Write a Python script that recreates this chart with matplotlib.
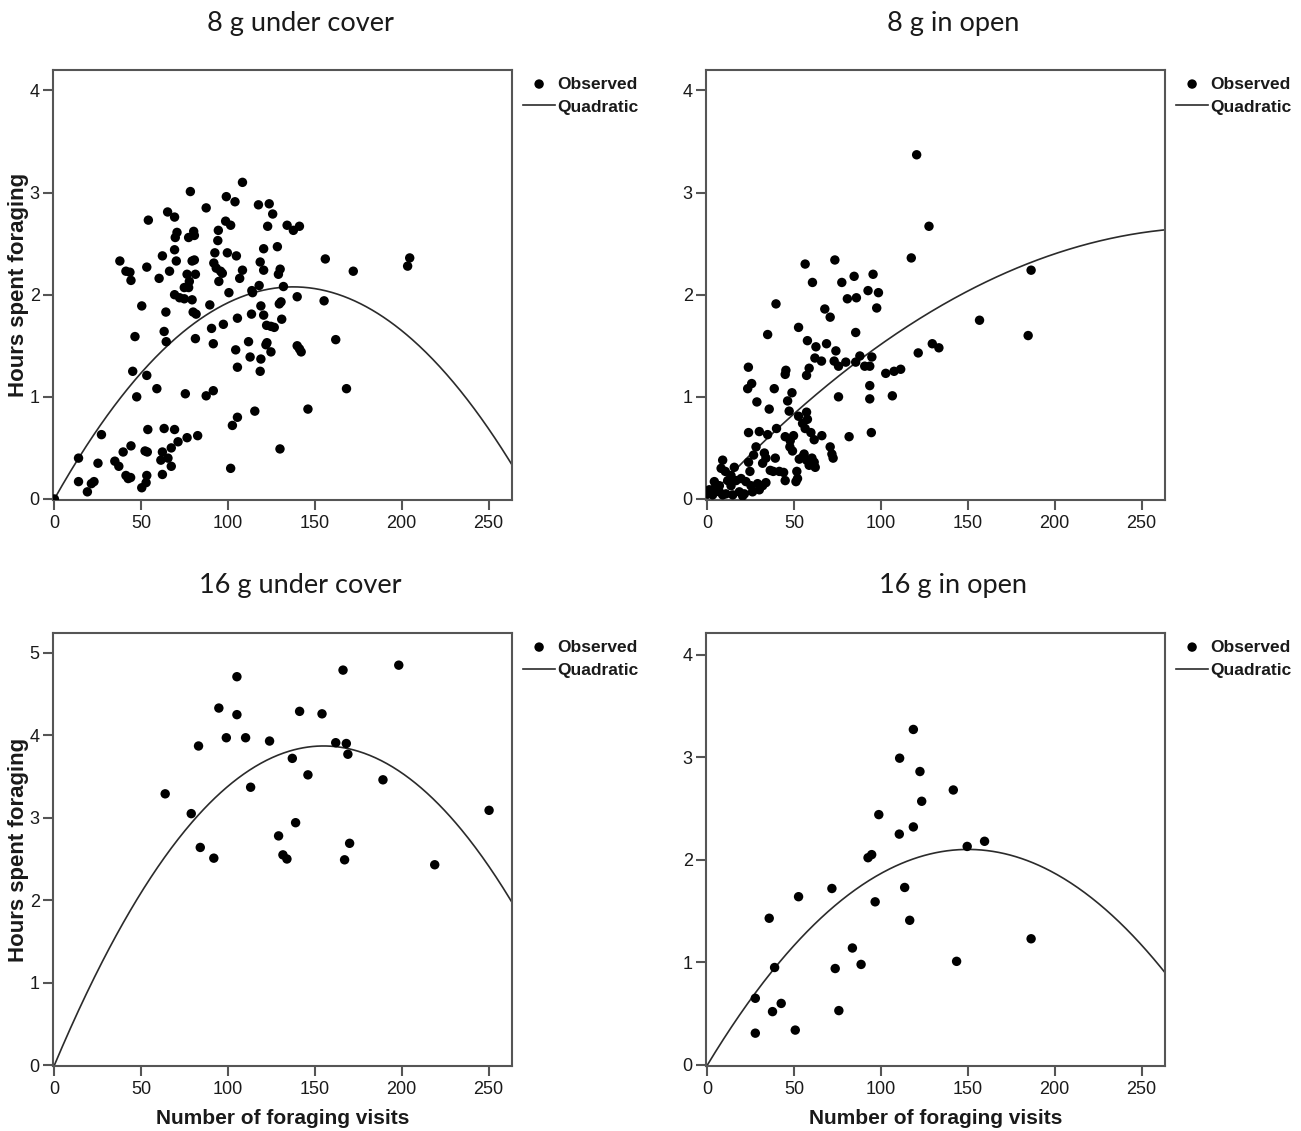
import numpy as np
import matplotlib
matplotlib.use("Agg")
import matplotlib.pyplot as plt

# ---------------------------------------------------------------------------
# data
# ---------------------------------------------------------------------------
titles = ["8 g under cover", "8 g in open", "16 g under cover", "16 g in open"]

# 8 g under cover
p1_x = [108.3, 78.3, 99, 104, 87.4, 117.5, 123.7, 125.7, 65.2, 69.2, 54.1, 98.6, 101.5, 122.8, 134, 137.6, 141.1,
        70.6, 69.6, 77.3, 80.2, 80.6, 94.4, 94.1, 120.5, 128.4, 69.2, 92.4, 99.6, 104.8, 62.2, 37.7, 41.2, 43.5,
        44.1, 53.2, 70.2, 79.3, 80.6, 66.3, 60.3, 76.4, 81.2, 77.7, 74.8, 77.3, 91.8, 93.2, 95.7, 96.7, 94.7,
        108.3, 106.7, 118.5, 120.5, 130, 129, 117.9, 113.7, 114.1, 131.9, 100.5, 69.2, 72.1, 74.8, 79.3, 50.3,
        89.5, 79.9, 81.6, 64.2, 118.9, 120.5, 129.5, 130.5, 113.5, 105.4, 97.3, 90.5, 130.9, 122.2, 124.7, 126.6,
        46.4, 63.2, 64.4, 81.2, 91.5, 111.8, 122.4, 121.8, 104.4, 112.7, 118.9, 124.7,
        156, 204.6, 203.4, 172.1, 139.8, 155.3, 139.8, 141.1, 142.1, 162, 105.4, 118.5, 168.2, 115.4, 105.4,
        102.5, 146, 129.9,
        45.1, 53.2, 59, 47.4, 75.4, 87.4, 91.5, 27.1, 53.8, 63.2, 69.2, 76.4, 82.5, 71.2, 67.3, 44.1, 39.6, 52.2,
        53.5, 62.2, 61.3, 65.4, 67.3, 62.2, 13.9, 25.1, 34.8, 37.1, 41.2, 42.5, 43.9, 53.2, 52.8, 50.3, 13.9,
        21.3, 22.8, 19, 101.5, 0]
p1_y = [3.10, 3.01, 2.96, 2.91, 2.85, 2.88, 2.89, 2.79, 2.81, 2.76, 2.73, 2.72, 2.68, 2.67, 2.68, 2.63, 2.67,
        2.61, 2.56, 2.56, 2.62, 2.58, 2.63, 2.53, 2.45, 2.47, 2.44, 2.41, 2.41, 2.38, 2.38, 2.33, 2.23, 2.22,
        2.14, 2.27, 2.33, 2.33, 2.34, 2.23, 2.16, 2.20, 2.20, 2.13, 2.07, 2.07, 2.31, 2.26, 2.23, 2.21, 2.13,
        2.24, 2.16, 2.32, 2.24, 2.25, 2.20, 2.09, 2.04, 2.02, 2.08, 2.02, 2.00, 1.97, 1.96, 1.95, 1.89,
        1.90, 1.83, 1.81, 1.83, 1.89, 1.80, 1.91, 1.93, 1.81, 1.77, 1.71, 1.67, 1.76, 1.70, 1.69, 1.68,
        1.59, 1.64, 1.54, 1.57, 1.52, 1.54, 1.53, 1.51, 1.46, 1.39, 1.37, 1.44,
        2.35, 2.36, 2.28, 2.23, 1.98, 1.94, 1.50, 1.47, 1.44, 1.56, 1.29, 1.25, 1.08, 0.86, 0.80,
        0.72, 0.88, 0.49,
        1.25, 1.21, 1.08, 1.00, 1.03, 1.01, 1.06, 0.63, 0.68, 0.69, 0.68, 0.60, 0.62, 0.56, 0.50, 0.52, 0.46, 0.47,
        0.46, 0.46, 0.38, 0.40, 0.32, 0.24, 0.40, 0.35, 0.37, 0.32, 0.23, 0.20, 0.21, 0.23, 0.16, 0.11, 0.17,
        0.15, 0.17, 0.07, 0.30, 0.0]

# 8 g in open
p2_x = [120.5, 127.6, 117.4, 56.3, 73.4, 60.5, 77.4, 84.5, 95.4, 92.5, 98.5, 80.6, 85.8, 97.5, 39.5, 67.6, 70.7,
        52.5, 34.7, 85.4, 57.6, 62.5, 68.6, 74, 73, 61.9, 65.7, 79.7, 75.5, 87.8, 94.7, 85.4, 90.6, 93.5, 23.6,
        45.2, 44.8, 58.6, 57.1, 121.4, 129.5, 133.3, 102.7, 107.5, 111.3, 186.4, 156.7, 184.7,
        23.2, 25.5, 38.5, 48.7, 46.2, 28.5, 35.6, 75.5, 93.5, 93.5, 106.5, 47.1, 52.5, 57.1, 54.8, 56.3, 57.6,
        23.7, 29.9, 34.7, 39.8, 44.8, 49.6, 59.6, 61.5, 65.9, 81.6, 94.4, 28, 26.6, 32.8, 33.7, 31.8, 23.7, 24.5,
        39.1, 36.2, 37.9, 41.4, 43.9, 44.8, 47.7, 47.5, 49, 52.9, 54.8, 55.7, 57.1, 58.6, 60.2, 61.5, 62.1,
        70.7, 71.7, 72.4, 51.5, 51.9, 51, 8.8, 7.9, 10.3, 13.6, 15.5, 16.5, 19.4, 22.2, 25.1, 28.9, 31.8, 33.7,
        18.4, 21.3, 26, 29.9, 1.1, 4, 6.9, 10.7, 3, 8.8, 0, 4, 6.9, 11.7, 13.6, 14.6, 20.3]
p2_y = [3.37, 2.67, 2.36, 2.30, 2.34, 2.12, 2.12, 2.18, 2.20, 2.04, 2.02, 1.96, 1.97, 1.87, 1.91, 1.86, 1.78,
        1.68, 1.61, 1.63, 1.55, 1.49, 1.52, 1.45, 1.35, 1.38, 1.35, 1.34, 1.30, 1.40, 1.39, 1.34, 1.30, 1.30, 1.29,
        1.26, 1.22, 1.28, 1.21, 1.43, 1.52, 1.48, 1.23, 1.25, 1.27, 2.24, 1.75, 1.60,
        1.08, 1.13, 1.08, 1.04, 0.96, 0.95, 0.88, 1.00, 1.11, 0.98, 1.01, 0.86, 0.81, 0.85, 0.74, 0.69, 0.78,
        0.65, 0.66, 0.63, 0.69, 0.61, 0.62, 0.65, 0.58, 0.62, 0.61, 0.65, 0.51, 0.43, 0.45, 0.40, 0.35, 0.36, 0.27,
        0.40, 0.28, 0.27, 0.27, 0.26, 0.18, 0.57, 0.51, 0.47, 0.39, 0.41, 0.44, 0.38, 0.33, 0.40, 0.36, 0.31,
        0.51, 0.44, 0.40, 0.27, 0.20, 0.17, 0.38, 0.30, 0.27, 0.23, 0.31, 0.18, 0.20, 0.17, 0.13, 0.15, 0.13, 0.16,
        0.07, 0.05, 0.07, 0.09, 0.09, 0.10, 0.07, 0.05, 0.04, 0.04, 0.05, 0.17, 0.13, 0.18, 0.13, 0.04, 0.03]

# 16 g under cover
p3_x = [105.1, 166.2, 198.3, 94.7, 105.1, 141.2, 154.1, 83, 99, 110.1, 123.9, 162, 168.1, 169, 137, 146, 189.2,
        113, 63.8, 78.8, 250.3, 138.9, 129.1, 170, 84, 91.8, 131.6, 133.9, 167.1, 219]
p3_y = [4.71, 4.79, 4.85, 4.33, 4.25, 4.29, 4.26, 3.87, 3.97, 3.97, 3.93, 3.91, 3.90, 3.77, 3.72, 3.52, 3.46,
        3.37, 3.29, 3.05, 3.09, 2.94, 2.78, 2.69, 2.64, 2.51, 2.55, 2.50, 2.49, 2.43]

# 16 g in open
p4_x = [118.6, 110.7, 122.4, 141.6, 123.4, 98.7, 118.6, 110.5, 149.6, 159.6, 92.5, 94.6, 71.7, 113.6, 52.5, 96.6,
        35.6, 116.5, 186.4, 83.5, 143.5, 38.7, 73.6, 88.5, 27.6, 42.5, 37.5, 75.7, 27.6, 50.6]
p4_y = [3.27, 2.99, 2.86, 2.68, 2.57, 2.44, 2.32, 2.25, 2.13, 2.18, 2.02, 2.05, 1.72, 1.73, 1.64, 1.59,
        1.43, 1.41, 1.23, 1.14, 1.01, 0.95, 0.94, 0.98, 0.65, 0.60, 0.52, 0.53, 0.31, 0.34]

# quadratic fits (c0, c1, c2) as drawn
quad_coefs = [
    (0.0, 0.0302, -0.0001098),
    (0.0, 0.0183, -0.0000315),
    (0.0, 0.04994, -0.0001611),
    (0.0, 0.0280, -0.0000933),
]

x_ticks = [0, 50, 100, 150, 200, 250]
y_ticks = [[0, 1, 2, 3, 4], [0, 1, 2, 3, 4], [0, 1, 2, 3, 4, 5], [0, 1, 2, 3, 4]]
y_tops = [4.2, 4.2, 5.24, 4.21]

xs = [p1_x, p2_x, p3_x, p4_x]
ys = [p1_y, p2_y, p3_y, p4_y]

# ---------------------------------------------------------------------------
# figure
# ---------------------------------------------------------------------------
W, H = 1301, 1131
fig = plt.figure(figsize=(W / 100, H / 100), dpi=100)

# axes boxes in pixels: left, top, right, bottom
boxes = [(53, 70, 512, 500), (706, 70, 1165, 500),
         (53, 633, 512, 1066), (706, 633, 1165, 1066)]

spine_col = "#555555"
txt_col = "#1a1a1a"
tick_font = "Liberation Sans"

for i, (l, t, r, b) in enumerate(boxes):
    ax = fig.add_axes([l / W, 1 - b / H, (r - l) / W, (b - t) / H])

    ax.scatter(xs[i], ys[i], s=46, color="black", edgecolors="none", zorder=3, label="Observed")

    c0, c1, c2 = quad_coefs[i]
    xx = np.linspace(0, 263.5, 400)
    ax.plot(xx, c0 + c1 * xx + c2 * xx ** 2, color="#2b2b2b", lw=1.2, zorder=2, label="Quadratic")

    ax.set_xlim(-0.8, 263.5)
    ax.set_ylim(-0.01, y_tops[i])
    ax.set_xticks(x_ticks)
    ax.set_yticks(y_ticks[i])

    for sp in ax.spines.values():
        sp.set_color(spine_col)
        sp.set_linewidth(1.5)
    ax.tick_params(axis="both", direction="out", length=7.5, width=1.5, color=spine_col,
                   labelsize=13, labelcolor=txt_col)
    ax.tick_params(axis="y", pad=2)
    ax.tick_params(axis="x", pad=3)
    for lab in ax.get_xticklabels() + ax.get_yticklabels():
        lab.set_fontfamily(tick_font)

    # panel title, centred a little right of the axes centre
    ax.text(0.538, 1 + 47 / (b - t), titles[i], transform=ax.transAxes, ha="center", va="center",
            fontsize=19.5, family="Lato", color=txt_col)

    if i in (0, 2):
        ax.set_ylabel("Hours spent foraging", fontsize=16, fontweight="bold",
                      family=tick_font, color=txt_col)
        ax.yaxis.set_label_coords(-0.052, 0.5)
    if i in (2, 3):
        ax.set_xlabel("Number of foraging visits", fontsize=15, fontweight="bold",
                      family=tick_font, color=txt_col)
        ax.xaxis.set_label_coords(0.5, -0.1)

    ax.legend(loc="upper left", bbox_to_anchor=(1.025, 0.985), frameon=False,
              prop={"family": tick_font, "weight": "bold", "size": 12.5},
              handlelength=1.8, handletextpad=0.15, borderaxespad=0.0,
              borderpad=0.0, labelspacing=0.45, labelcolor=txt_col)

fig.savefig("out.png", dpi=100)
